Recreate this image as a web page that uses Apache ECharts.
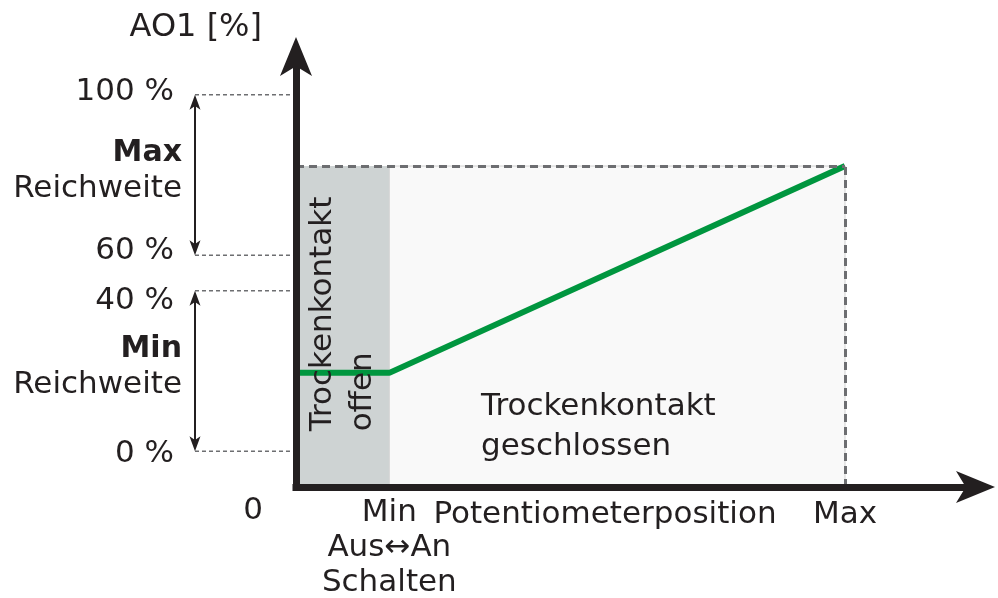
<!DOCTYPE html>
<html><head><meta charset="utf-8">
<script src="https://cdn.jsdelivr.net/npm/echarts@6/dist/echarts.min.js"></script>
<style>html,body{margin:0;padding:0;background:#fff}#c{width:998px;height:598px}</style>
</head><body><div id="c"></div>
<script>
// ---- data (schematic units) ----
const potiPositions = [0, 17, 100];          // 0, Min, Max
const ao1Values = [22, 22, 80];               // AO1 output along the potentiometer
const originLabel = ['0'];
const xTickValues = [17, 100];
const xTickLabels = ['Min\nAus\u2194An\nSchalten', 'Max'];
const yTickValues = [0, 45, 55, 100];
const yTickLabels = ['0 %', '40 %', '60 %', '100 %'];
const offenRange = [0, 17];
const geschlossenRange = [17, 100];
const contactTop = [80];
const rangeBounds = [[55, 100], [0, 45]];
const rangeTitles = ['Max', 'Min'];
const rangeSubtitle = 'Reichweite';
const noteTexts = ['Trockenkontakt\noffen', 'Trockenkontakt\ngeschlossen'];

// ---- layout ----
const X_MIN = 0, X_MAX = 123.5, Y_MIN = -10, Y_MAX = 110;
const rangeArrowX = -18.4;
const notePos = [[8.6, 5.6], [33.7, 6.9]];
const noteRot = [Math.PI / 2, 0];
const INK = '#231f20';
const FONT = 'DejaVu Sans';
const FS = 31;

const chart = echarts.init(document.getElementById('c'), null, {renderer: 'canvas'});

function rs(pad) { return {fontFamily: FONT, fontSize: FS, color: INK, padding: pad}; }
const yRich = {
  a: rs([6, 0, 0, 0]),
  b: rs([20, 0, 0, 0]),
  c: rs([0, 0, 8, 0]),
  e: rs([0, 0, 6, 0])
};
const yStyleKey = ['a', 'b', 'c', 'e'];

const option = {
  animation: false,
  backgroundColor: '#ffffff',
  grid: {left: 296, right: 24, top: 59, bottom: 111, outerBoundsMode: 'none'},
  xAxis: {
    type: 'value', min: X_MIN, max: X_MAX, z: 5,
    name: 'Potentiometerposition', nameLocation: 'middle', nameGap: 10, nameMoveOverlap: false,
    nameTextStyle: {color: INK, fontFamily: FONT, fontSize: FS, lineHeight: 36, padding: [0, 60, 0, 0], verticalAlign: 'top'},
    axisLine: {show: true, onZero: false, symbol: ['none', 'arrow'], symbolSize: [24, 39], symbolOffset: [0, 21],
      lineStyle: {color: INK, width: 7, cap: 'square'}},
    axisTick: {show: false}, splitLine: {show: false},
    axisLabel: {
      customValues: xTickValues, margin: 8, color: INK, fontFamily: FONT, fontSize: FS, lineHeight: 35,
      hideOverlap: false,
      formatter: function (v) {
        const i = xTickValues.indexOf(v);
        const t = i < 0 ? '' : xTickLabels[i];
        if (i === 1) return '{m|' + t + '}';
        return t;
      },
      rich: {
        m: {fontFamily: FONT, fontSize: FS, color: INK, lineHeight: 35, padding: [5, 0, 0, 0]}
      }
    }
  },
  yAxis: {
    type: 'value', min: Y_MIN, max: Y_MAX, z: 5,
    name: 'AO1 [%]', nameLocation: 'end', nameGap: 15, nameMoveOverlap: false,
    nameTextStyle: {color: INK, fontFamily: FONT, fontSize: 32, align: 'right', verticalAlign: 'bottom', padding: [0, 34, 0, 0]},
    axisLine: {show: true, onZero: false, symbol: ['none', 'arrow'], symbolSize: [24, 39], symbolOffset: [0, 22],
      lineStyle: {color: INK, width: 7, cap: 'square'}},
    axisTick: {show: false}, splitLine: {show: false},
    axisLabel: {
      customValues: yTickValues, margin: 122, color: INK, fontFamily: FONT, fontSize: FS,
      showMinLabel: true, showMaxLabel: true, hideOverlap: false,
      formatter: function (v) {
        const i = yTickValues.indexOf(v);
        return i < 0 ? '' : '{' + yStyleKey[i] + '|' + yTickLabels[i] + '}';
      },
      rich: yRich
    }
  },
  series: [
    {
      type: 'line', z: 3, clip: false, symbol: 'none',
      data: potiPositions.map(function (x, i) { return [x, ao1Values[i]]; }),
      lineStyle: {color: '#00963f', width: 6},
      markArea: {
        silent: true,
        data: [
          [{xAxis: offenRange[0], yAxis: Y_MIN, itemStyle: {color: '#ced3d3'}},
           {xAxis: offenRange[1], yAxis: contactTop[0]}],
          [{xAxis: geschlossenRange[0], yAxis: Y_MIN, itemStyle: {color: '#f9f9f9', borderColor: '#d2d2d2', borderWidth: 1}},
           {xAxis: geschlossenRange[1], yAxis: contactTop[0]}]
        ]
      },
      markLine: {
        silent: true, symbol: 'none', label: {show: false},
        lineStyle: {color: '#6d6e71', type: [8, 5], width: 3},
        data: [
          [{coord: [offenRange[0], contactTop[0]]}, {coord: [geschlossenRange[1], contactTop[0]]}],
          [{coord: [geschlossenRange[1], Y_MIN]}, {coord: [geschlossenRange[1], contactTop[0]]}]
        ]
      }
    },
    {
      type: 'custom', silent: true, clip: false, z: 1,
      data: yTickValues.map(function (v) { return [rangeArrowX, v]; }),
      renderItem: function (params, api) {
        const a = api.coord([rangeArrowX, api.value(1)]);
        const b = api.coord([0, api.value(1)]);
        return {type: 'line', shape: {x1: a[0], y1: a[1], x2: b[0] - 3, y2: b[1]},
          style: {stroke: '#6d6e71', lineWidth: 1.5, lineDash: [4, 3]}};
      }
    },
    {
      type: 'custom', silent: true, clip: false, z: 4,
      data: rangeBounds,
      renderItem: function (params, api) {
        const lo = api.coord([rangeArrowX, api.value(0)]);
        const hi = api.coord([rangeArrowX, api.value(1)]);
        const x = hi[0], hw = 5.5, hl = 15;
        const mid = (lo[1] + hi[1]) / 2;
        return {type: 'group', children: [
          {type: 'line', shape: {x1: x, y1: hi[1] + 8, x2: x, y2: lo[1] - 8}, style: {stroke: INK, lineWidth: 2}},
          {type: 'polygon', shape: {points: [[x, hi[1]], [x + hw, hi[1] + hl], [x, hi[1] + hl * 0.75], [x - hw, hi[1] + hl]]}, style: {fill: INK}},
          {type: 'polygon', shape: {points: [[x, lo[1]], [x + hw, lo[1] - hl], [x, lo[1] - hl * 0.75], [x - hw, lo[1] - hl]]}, style: {fill: INK}},
          {type: 'text', x: x - 13, y: mid - 22, style: {text: rangeTitles[params.dataIndex], fill: INK, fontFamily: FONT, fontWeight: 'bold', fontSize: 30, align: 'right', verticalAlign: 'middle'}},
          {type: 'text', x: x - 13, y: mid + 14, style: {text: rangeSubtitle, fill: INK, fontFamily: FONT, fontSize: FS, align: 'right', verticalAlign: 'middle'}}
        ]};
      }
    },
    {
      type: 'custom', silent: true, clip: false, z: 4,
      data: [[X_MIN, Y_MIN]],
      renderItem: function (params, api) {
        const p = api.coord([api.value(0), api.value(1)]);
        return {type: 'text', x: p[0] - 43, y: p[1] + 24,
          style: {text: originLabel[0], fill: INK, fontFamily: FONT, fontSize: FS, align: 'center', verticalAlign: 'middle'}};
      }
    },
    {
      type: 'custom', silent: true, clip: false, z: 4,
      data: notePos,
      renderItem: function (params, api) {
        const p = api.coord([api.value(0), api.value(1)]);
        return {type: 'text', x: p[0], y: p[1], rotation: noteRot[params.dataIndex],
          style: {text: noteTexts[params.dataIndex], fill: INK, fontFamily: FONT, fontSize: FS, lineHeight: 40, align: 'left', verticalAlign: 'middle'}};
      }
    }
  ]
};
chart.setOption(option);
</script>
</body></html>
